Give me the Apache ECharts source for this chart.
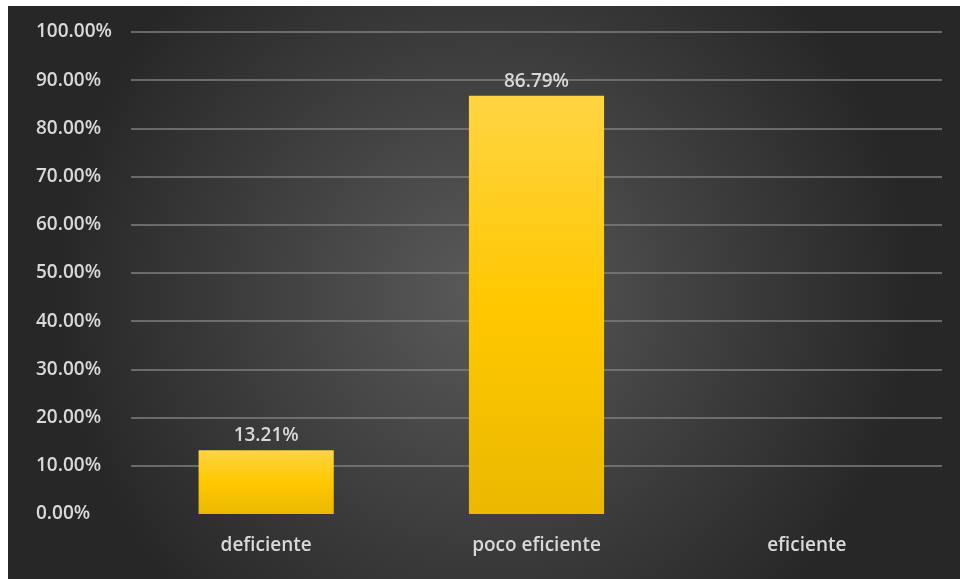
<!DOCTYPE html>
<html>
<head>
<meta charset="utf-8">
<script src="https://cdn.jsdelivr.net/npm/echarts@6/dist/echarts.min.js"></script>
<style>
  html, body { margin: 0; padding: 0; background: #ffffff; width: 960px; height: 579px; overflow: hidden; }
  #chart { position: absolute; left: 8px; top: 6px; width: 952px; height: 573px; }
</style>
</head>
<body>
<div id="chart"></div>
<script>
// Categories and their shares (in percent)
const categories = ['deficiente', 'poco eficiente', 'eficiente'];
const shares = [13.21, 86.79, 0];
// Value axis range
const axisMin = 0;
const axisMax = 100;
const axisStep = 10;

const labelFont = "'Open Sans', 'Noto Sans', sans-serif";
const textStyle = { color: '#d9d9d9', fontSize: 19, fontFamily: labelFont, fontWeight: 600 };
const chart = echarts.init(document.getElementById('chart'), null, { renderer: 'canvas' });

chart.setOption({
  backgroundColor: {
    type: 'radial', x: 0.5, y: 0.5, r: 0.75,
    colorStops: [
      { offset: 0, color: '#5a5a5a' },
      { offset: 0.6, color: '#3b3b3b' },
      { offset: 1, color: '#272727' }
    ]
  },
  animation: false,
  grid: { left: 123, right: 18, top: 26, bottom: 65 },
  xAxis: {
    type: 'category',
    data: categories,
    axisLine: { show: false },
    axisTick: { show: false },
    axisLabel: Object.assign({ margin: 22 }, textStyle)
  },
  yAxis: {
    type: 'value',
    min: axisMin, max: axisMax, interval: axisStep,
    axisLine: { show: false },
    axisTick: { show: false },
    splitLine: { showMinLine: false, lineStyle: { color: '#7f7f7f', width: 1.5 } },
    axisLabel: Object.assign({
      align: 'left', margin: 95,
      formatter: v => v.toFixed(2) + '%'
    }, textStyle)
  },
  series: [{
    type: 'bar',
    data: shares.map(v => (v > 0 ? v : null)),
    barWidth: '50%',
    itemStyle: {
      color: {
        type: 'linear', x: 0, y: 0, x2: 0, y2: 1,
        colorStops: [
          { offset: 0, color: '#ffd443' },
          { offset: 0.5, color: '#ffc800' },
          { offset: 1, color: '#eab900' }
        ]
      }
    },
    label: Object.assign({
      show: true, position: 'top', distance: 5,
      formatter: p => p.value.toFixed(2) + '%'
    }, textStyle)
  }]
});
</script>
</body>
</html>
